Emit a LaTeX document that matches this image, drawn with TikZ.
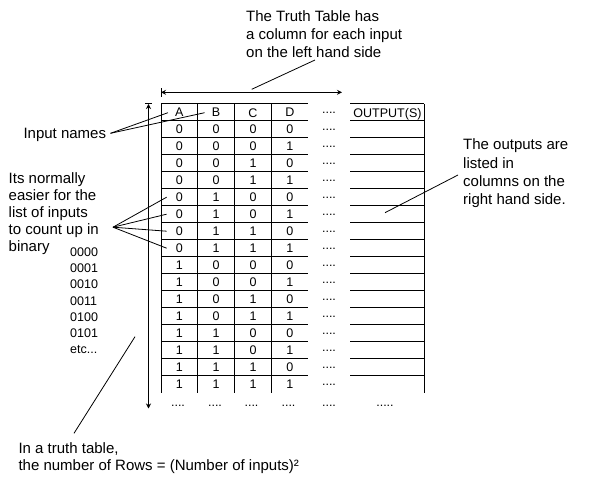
\documentclass[tikz,border=0pt]{standalone}
\usepackage{fontspec}
\setmainfont{Liberation Sans}
\usetikzlibrary{arrows.meta}
\begin{document}
\begin{tikzpicture}[x=1pt,y=-1pt,
  txt/.style={font=\fontsize{15}{18}\selectfont, inner sep=0pt, anchor=base west, align=left},
  cell/.style={font=\fontsize{12.5}{15}\selectfont, inner sep=0pt},
  dotrow/.style={font=\fontsize{12.5}{15}\selectfont, inner sep=0pt, anchor=base},
  gridline/.style={line width=1pt},
  lead/.style={line width=0.8pt},
  tip/.style={line width=1pt},
]
\fill[white] (0,0) rectangle (600,500);
\useasboundingbox (0,0) rectangle (600,500);

% ---- table grid ----
\draw[gridline] (161,104) -- (308,104);
\draw[gridline] (350,104) -- (424,104);
\foreach \k in {0,...,15} {
  \pgfmathsetmacro\yy{120.7+17*\k}
  \draw[gridline] (161,\yy) -- (308,\yy);
  \draw[gridline] (350,\yy) -- (424,\yy);
}
\foreach \x in {161,197.7,234.3,271.7,424} {
  \draw[gridline] (\x,104) -- (\x,393.3);
}

% ---- headers ----
\node[cell] (hA) at (179.3,112.7) {A};
\node[cell] (hB) at (216,112.7) {B};
\node[cell] (hC) at (253,112.7) {C};
\node[cell] (hD) at (289.8,112.7) {D};
\node[dotrow] (hdots) at (329,114) {....};
\node[cell, anchor=base] (hOut) at (387.5,117.5) {OUTPUT(S)};

% ---- rows ----
\foreach \a/\b/\c/\d [count=\k from 0] in {0/0/0/0,0/0/0/1,0/0/1/0,0/0/1/1,0/1/0/0,0/1/0/1,0/1/1/0,0/1/1/1,1/0/0/0,1/0/0/1,1/0/1/0,1/0/1/1,1/1/0/0,1/1/0/1,1/1/1/0,1/1/1/1} {
  \pgfmathsetmacro\yy{129.2+17*\k}
  \node[cell] (a\k) at (179.3,\yy) {\a};
  \node[cell] (b\k) at (216,\yy) {\b};
  \node[cell] (c\k) at (253,\yy) {\c};
  \node[cell] (d\k) at (289.8,\yy) {\d};
  \node[dotrow] (m\k) at (329,\yy+1.5) {....};
}
\node[dotrow] (zA) at (178,406) {....};
\node[dotrow] (zB) at (215,406) {....};
\node[dotrow] (zC) at (251.5,406) {....};
\node[dotrow] (zD) at (288.5,406) {....};
\node[dotrow] (zM) at (329,406) {....};
\node[dotrow] (zO) at (385,406) {.....};

% ---- dimension arrows ----
\coordinate (hL) at (161,92.3);
\coordinate (hR) at (342,92.3);
\draw[tip, {Stealth[length=5pt,width=5pt]}-{Stealth[length=5pt,width=5pt]}] (hL) -- (hR);
\draw[tip] ([yshift=-4.5pt]hL) -- ([yshift=4.5pt]hL);
\coordinate (vT) at (148.5,104);
\coordinate (vB) at (148.5,408.5);
\draw[tip, {Stealth[length=5pt,width=5pt]}-{Stealth[length=5pt,width=5pt]}] (vT) -- (vB);
\draw[tip] ([xshift=-3.5pt]vT) -- ([xshift=3.5pt]vT);

% ---- texts (anchor = baseline of the last line) ----
\node[txt] (tTop) at (246,57.3) {The Truth Table has\\a column for each input\\on the left hand side};
\node[txt] (tInput) at (23.3,138.3) {Input names};
\node[txt, font=\fontsize{15}{17}\selectfont] (tList) at (8.5,251.3) {Its normally\\easier for the\\list of inputs\\to count up in\\binary};
\node[txt, font=\fontsize{12.5}{16.1}\selectfont] (tBin) at (70,353.3) {0000\\0001\\0010\\0011\\0100\\0101\\etc...};
\node[txt, font=\fontsize{15}{17}\selectfont] (tRows) at (18.3,470) {In a truth table,\\the number of Rows = (Number of inputs)²};
\node[txt, font=\fontsize{15}{18.3}\selectfont] (tOut) at (463,204.9) {The outputs are\\listed in\\columns on the\\right hand side.};

% ---- leader lines ----
\coordinate (topS) at (315,60);
\coordinate (topE) at (251.7,89.3);
\draw[lead] (topS) -- (topE);

\coordinate (inS) at (110.5,133.3);
\draw[lead] (inS) -- ([xshift=-7pt]hA.west);
\draw[lead] (inS) -- ([xshift=-7pt]hB.west);

\coordinate (lsS) at (113,227.2);
\foreach \k in {4,5,6,7} {
  \draw[lead] (lsS) -- ([xshift=-9pt]a\k.west);
}

\coordinate (rwS) at (135,336.7);
\coordinate (rwE) at (74,433.3);
\draw[lead] (rwS) -- (rwE);

\coordinate (otS) at (458,175);
\coordinate (otE) at (385,212.7);
\draw[lead] (otS) -- (otE);
\end{tikzpicture}
\end{document}
